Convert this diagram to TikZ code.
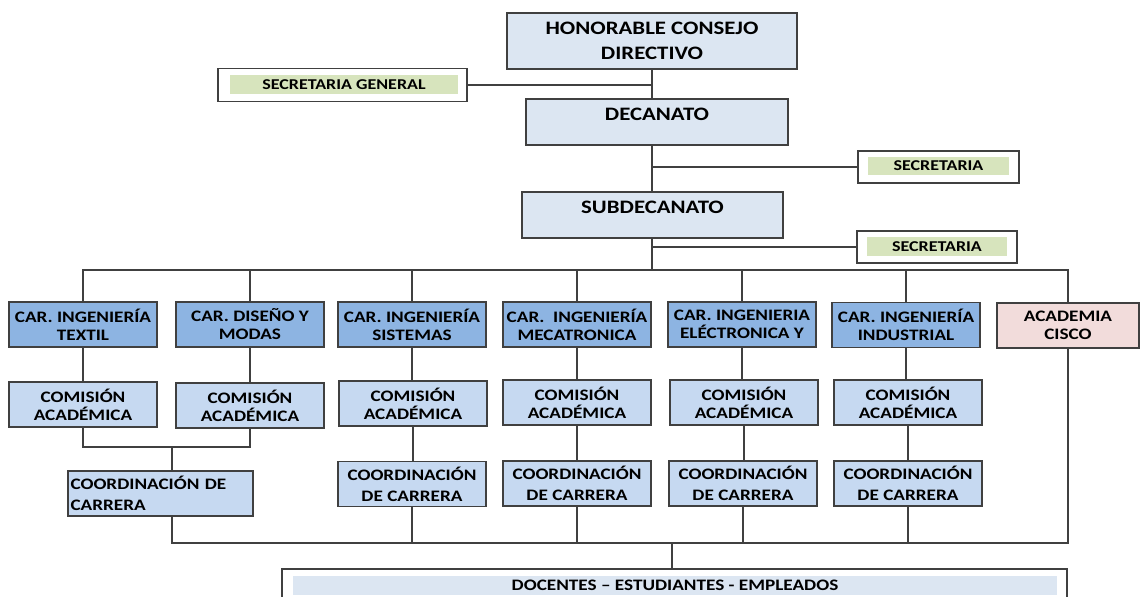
\documentclass[tikz,border=0pt]{standalone}
\usepackage{fontspec}
\setmainfont{Carlito}[FakeStretch=1.2]
\definecolor{boxline}{HTML}{404040}
\definecolor{headfill}{HTML}{DCE6F2}
\definecolor{carfill}{HTML}{8DB4E2}
\definecolor{comfill}{HTML}{C6D9F1}
\definecolor{ciscofill}{HTML}{F2DCDB}
\definecolor{secgreen}{HTML}{D7E4BD}

\tikzstyle{every node}=[inner sep=0pt, align=center, font={\bfseries\fontsize{8}{9}\selectfont}]
\tikzstyle{box}=[draw=boxline, line width=0.8pt, minimum width=74pt, minimum height=22.5pt]
\tikzstyle{head}=[box, fill=headfill, font={\bfseries\fontsize{9.5}{12.5}\selectfont}]
\tikzstyle{topline}=[text height=6.5pt, text depth=8.2pt]
\tikzstyle{car}=[box, fill=carfill]
\tikzstyle{com}=[box, fill=comfill]
\tikzstyle{coord}=[com, font={\bfseries\fontsize{8}{10.5}\selectfont}]
\tikzstyle{cisco}=[box, fill=ciscofill, minimum width=71pt]
\tikzstyle{frame}=[draw=boxline, line width=0.8pt, minimum height=16pt]
\tikzstyle{secin}=[fill=secgreen, minimum height=9.5pt, font={\bfseries\fontsize{7.5}{9}\selectfont}]
\tikzstyle{line}=[draw=boxline, line width=0.9pt]

\begin{document}
\begin{tikzpicture}[x=0.5pt, y=-0.5pt]
    \useasboundingbox (0,0) rectangle (1141,597);
    \clip (0,0) rectangle (1141,597);
    \node [head, minimum width=145pt, minimum height=28pt] (hcd) at (652,41) {HONORABLE CONSEJO\\DIRECTIVO};
    \node [head, topline, minimum width=131pt, minimum height=23pt] (dec) at (657,122) {DECANATO};
    \node [head, topline, minimum width=130.5pt, minimum height=23pt] (sub) at (652.5,215) {SUBDECANATO};

    \node [frame, minimum width=124.5pt, minimum height=16.5pt] (sg) at (342.5,85) {};
    \node [secin, minimum width=114pt] (sgt) at (344,84.5) {SECRETARIA GENERAL};
    \node [frame, minimum width=80.5pt] (s1) at (938.5,167) {};
    \node [secin, minimum width=70.5pt, minimum height=9pt] (s1t) at (938.5,166) {SECRETARIA};
    \node [frame, minimum width=80pt] (s2) at (937,247) {};
    \node [secin, minimum width=70pt] (s2t) at (937,246.5) {SECRETARIA};

    \node [car] (c1) at (83,324.5) {CAR. INGENIERÍA\\TEXTIL};
    \node [car] (c2) at (250,324.5) {CAR. DISEÑO Y\\MODAS};
    \node [car] (c3) at (412,324.5) {CAR. INGENIERÍA\\SISTEMAS};
    \node [car] (c4) at (577,324.5) {CAR.\ \ INGENIERÍA\\MECATRONICA};
    \node [car] (c5) at (742,324.5) {CAR. INGENIERIA\\ELÉCTRONICA Y};
    \node [car] (c6) at (906,325) {CAR. INGENIERÍA\\INDUSTRIAL};
    \node [cisco] (cisco) at (1068,325.5) {ACADEMIA\\CISCO};

    \node [com] (m1) at (83,404.5) {COMISIÓN\\ACADÉMICA};
    \node [com] (m2) at (250,405.5) {COMISIÓN\\ACADÉMICA};
    \node [com] (m3) at (413,403.5) {COMISIÓN\\ACADÉMICA};
    \node [com] (m4) at (577,402.5) {COMISIÓN\\ACADÉMICA};
    \node [com] (m5) at (744,402.5) {COMISIÓN\\ACADÉMICA};
    \node [com] (m6) at (908,402.5) {COMISIÓN\\ACADÉMICA};

    \node [coord, align=left, minimum width=92.5pt, text width=90pt] (co1) at (160.5,493.5) {COORDINACIÓN DE\\CARRERA};
    \node [coord] (co3) at (412,484) {COORDINACIÓN\\DE CARRERA};
    \node [coord] (co4) at (577,483.5) {COORDINACIÓN\\DE CARRERA};
    \node [coord] (co5) at (743,483.5) {COORDINACIÓN\\DE CARRERA};
    \node [coord] (co6) at (908,483.5) {COORDINACIÓN\\DE CARRERA};

    \node [frame, minimum width=392.5pt, minimum height=17pt] (dt) at (674.5,586) {};
    \node [secin, fill=headfill, font={\bfseries\fontsize{8}{9}\selectfont}, minimum width=382pt] (dtt) at (675,585.5) {DOCENTES – ESTUDIANTES - EMPLEADOS};

    \coordinate (b) at (652,270);
    \coordinate (j1) at (172,447);
    \coordinate (k) at (672,543);

    \draw [line] (hcd.south) -- (hcd.south |- dec.north);
    \draw [line] (sg.east) -- (sg.east -| hcd.south);
    \draw [line] (hcd.south |- dec.south) -- (hcd.south |- sub.north);
    \draw [line] (s1.west) -- (s1.west -| hcd.south);
    \draw [line] (hcd.south |- sub.south) -- (b);
    \draw [line] (s2.west) -- (s2.west -| b);
    \draw [line] (c1.north) |- (b) -| (cisco.north);
    \foreach \n in {c2,c3,c4,c5,c6}
        \draw [line] (\n.north) -- (\n.north |- b);
    \foreach \p/\q in {c1/m1,c2/m2,c3/m3,c4/m4,c5/m5,c6/m6,m3/co3,m4/co4,m5/co5,m6/co6}
        \draw [line] (\p.south) -- (\p.south |- \q.north);
    \draw [line] (m1.south) |- (j1) -| (m2.south);
    \draw [line] (j1) -- (j1 |- co1.north);
    \draw [line] (j1 |- co1.south) |- (k) -| (cisco.south);
    \foreach \n in {co3,co4,co5,co6}
        \draw [line] (\n.south) -- (\n.south |- k);
    \draw [line] (k) -- (k |- dt.north);
\end{tikzpicture}
\end{document}
